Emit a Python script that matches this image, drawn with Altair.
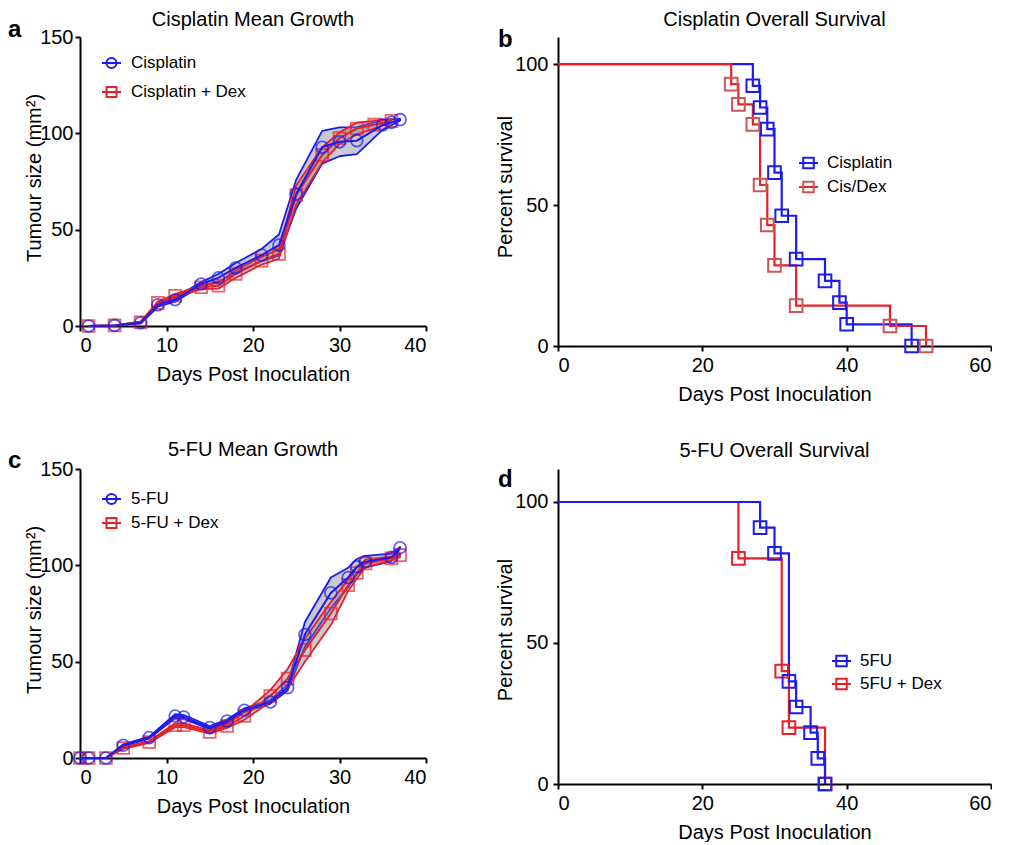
import altair as alt
import pandas as pd

BLUE = "#1c1cf0"
RED = "#e8202a"
RED_SOFT = "#cc5558"
BAND = "#7f7f8f"
FONT = "Liberation Sans"

# ---------------- data ----------------
# Panel a: Cisplatin mean growth
cis_names = ["Cisplatin", "Cisplatin + Dex"]
cis_days = [1, 4, 7, 9, 11, 14, 16, 18, 21, 23, 25, 28, 30, 32, 35, 36, 37]
cis_mean = [0, 0.3, 1.7, 11.0, 13.6, 21.8, 25.0, 30.2, 36.8, 42.0, 68.5, 92.8, 95.6, 96.2, 104.4, 105.7, 107.1]
cis_sem = [0, 0, 0.5, 1.0, 1.0, 1.0, 2.0, 2.5, 3.2, 5.5, 7.5, 8.5, 7.5, 7.0, 2.5, 1.5, 0.5]
cisdex_days = [1, 4, 7, 9, 11, 14, 16, 18, 21, 23, 25, 28, 30, 32, 34, 36]
cisdex_mean = [0, 0.3, 1.9, 12.0, 15.7, 20.1, 20.9, 27.0, 33.9, 37.4, 68.0, 88.8, 97.5, 102.5, 104.5, 106.5]
cisdex_sem = [0, 0, 0.3, 0.8, 0.8, 1.0, 1.5, 2.0, 2.0, 2.5, 5.0, 4.0, 3.0, 3.0, 2.0, 1.0]

# Panel c: 5-FU mean growth
fu_names = ["5-FU", "5-FU + Dex"]
fu_days = [0, 1, 3, 5, 8, 11, 12, 15, 17, 19, 22, 24, 26, 29, 31, 32, 33, 36, 37]
fu_mean = [0, 0, 0, 6.6, 10.6, 21.8, 21.3, 15.8, 19.2, 24.8, 29.1, 36.5, 64.1, 85.7, 93.7, 99.3, 101.9, 104.1, 109.1]
fu_sem = [0, 0, 0, 0.5, 0.5, 1.0, 1.0, 0.8, 0.8, 1.0, 1.0, 1.5, 6.5, 8.0, 5.0, 4.0, 3.0, 2.0, 0.5]
fudex_mean = [0, 0, 0, 5.2, 8.3, 17.0, 17.0, 13.5, 16.6, 21.8, 32.2, 41.2, 56.0, 75.0, 89.7, 96.0, 101.0, 103.6, 105.3]
fudex_sem = [0, 0, 0, 0.5, 0.5, 1.0, 1.0, 0.8, 1.0, 2.0, 3.0, 5.0, 6.0, 6.0, 3.0, 3.0, 2.0, 1.0, 1.0]

# Panel b: Cisplatin overall survival
cis_surv_names = ["Cisplatin", "Cis/Dex"]
cis_surv_days = [0, 27, 28, 29, 30, 31, 33, 37, 39, 40, 49]
cis_surv_pct = [100, 92.3, 84.6, 76.9, 61.5, 46.2, 30.8, 23.1, 15.4, 7.7, 0]
cisdex_surv_days = [0, 24, 25, 27, 28, 29, 30, 33, 46, 51]
cisdex_surv_pct = [100, 92.9, 85.7, 78.6, 57.1, 42.9, 28.6, 14.3, 7.1, 0]

# Panel d: 5-FU overall survival
fu_surv_names = ["5FU", "5FU + Dex"]
fu_surv_days = [0, 28, 30, 32, 33, 35, 36, 37]
fu_surv_pct = [100, 90.9, 81.8, 36.4, 27.3, 18.2, 9.1, 0]
fudex_surv_days = [0, 25, 31, 32, 37]
fudex_surv_pct = [100, 80, 40, 20, 0]

growth_x_ticks = [0, 10, 20, 30, 40]
growth_y_ticks = [0, 50, 100, 150]
surv_x_ticks = [0, 20, 40, 60]
surv_y_ticks = [0, 50, 100]

GW, GH = 346, 289   # growth panels plot area


def axis(values, title, orient, w, h, tdx=0, tdy=0, lpad=2):
    if orient == "bottom":
        return alt.Axis(values=values, title=title, titleX=w / 2, titleY=48,
                        titleBaseline="middle", titleAlign="center",
                        labelPadding=4)
    return alt.Axis(values=values, title=title, titleX=tdx, titleY=h / 2 + tdy,
                    titleAngle=270, titleBaseline="middle", titleAlign="center",
                    labelPadding=lpad)


def letter(ch, dx, dy):
    d = pd.DataFrame({"t": [ch]})
    return alt.Chart(d).mark_text(font=FONT, fontSize=24, fontWeight="bold",
                                  align="left", baseline="alphabetic",
                                  color="black").encode(
        text="t:N", x=alt.value(dx), y=alt.value(dy))


def legend_entry(name, color, shape, x0, x1, y, tx, size, sym_color=None):
    d = pd.DataFrame({"label": [name]})
    sc = sym_color or color
    rule = alt.Chart(d).mark_rule(color=color, strokeWidth=2).encode(
        x=alt.value(x0), x2=alt.value(x1), y=alt.value(y))
    pt = alt.Chart(d).mark_point(shape=shape, filled=False, color=sc, size=size,
                                 strokeWidth=2, opacity=1).encode(
        x=alt.value((x0 + x1) / 2), y=alt.value(y))
    txt = alt.Chart(d).mark_text(align="left", baseline="middle", font=FONT,
                                 fontSize=17, color="black").encode(
        x=alt.value(tx), y=alt.value(y), text="label:N")
    return [rule, pt, txt]


def growth_panel(title, names, d1, m1, s1, d2, m2, s2, ch, leg_y0, leg_dy, letter_dy, toff):
    xenc = alt.X("day:Q", scale=alt.Scale(domain=[0, 40], nice=False),
                 axis=axis(growth_x_ticks, "Days Post Inoculation", "bottom", GW, GH))
    yaxis = axis(growth_y_ticks, "Tumour size (mm²)", "left", GW, GH, tdx=-46, tdy=-4, lpad=2)
    yscale = alt.Scale(domain=[0, 150], nice=False)
    bands, lines = [], []
    for days, mean, sem, color, shape, name in [
        (d1, m1, s1, BLUE, "circle", names[0]),
        (d2, m2, s2, RED, "square", names[1]),
    ]:
        df = pd.DataFrame({"day": days, "mean": mean, "sem": sem})
        df["lo"] = df["mean"] - df["sem"]
        df["hi"] = df["mean"] + df["sem"]
        df["group"] = name
        base = alt.Chart(df)
        band = base.mark_area(fill=BAND, fillOpacity=0.42, stroke=color,
                              strokeWidth=1.8, strokeJoin="round").encode(
            x=xenc, y=alt.Y("lo:Q", scale=yscale, axis=yaxis), y2="hi:Q")
        line = base.mark_line(color=color, strokeWidth=2).encode(
            x=xenc, y=alt.Y("mean:Q", scale=yscale, axis=yaxis))
        pts = base.mark_point(shape=shape, filled=False, color=color, size=140,
                              strokeWidth=1.8).encode(
            x=xenc, y=alt.Y("mean:Q", scale=yscale, axis=yaxis))
        bands.append(band)
        lines.append((line, pts))
    layers = [bands[0], bands[1], lines[1][0], lines[1][1], lines[0][0], lines[0][1]]
    layers += legend_entry(names[0], BLUE, "circle", 22, 41, leg_y0, 51, 100)
    layers += legend_entry(names[1], RED, "square", 22, 41, leg_y0 + leg_dy, 51, 100)
    layers.append(letter(ch, -72, letter_dy))
    return alt.layer(*layers).properties(
        width=GW, height=GH, title=alt.Title(title, offset=toff))


def surv_panel(title, names, d1, p1, d2, p2, ch, red_marker, red_on_top,
               lx0, ly0, ldy, letter_dy, sw, sh, ymax, tdy, toff):
    xenc = alt.X("day:Q", scale=alt.Scale(domain=[0, 60], nice=False),
                 axis=axis(surv_x_ticks, "Days Post Inoculation", "bottom", sw, sh))
    yaxis = axis(surv_y_ticks, "Percent survival", "left", sw, sh, tdx=-53, tdy=tdy, lpad=5)
    yenc = alt.Y("pct:Q", scale=alt.Scale(domain=[0, ymax], nice=False), axis=yaxis)
    parts = {}
    for days, pct, color, mcolor, name in [
        (d1, p1, BLUE, BLUE, names[0]),
        (d2, p2, RED, red_marker, names[1]),
    ]:
        df = pd.DataFrame({"day": days, "pct": pct, "group": name})
        line = alt.Chart(df).mark_line(interpolate="step-after", color=color,
                                       strokeWidth=2.2).encode(x=xenc, y=yenc)
        pts = alt.Chart(df.iloc[1:]).mark_point(shape="square", filled=False, color=mcolor,
                                                size=160, strokeWidth=2, opacity=1).encode(
            x=xenc, y=yenc)
        parts[color] = (line, pts)
    if red_on_top:
        layers = [parts[BLUE][0], parts[RED][0], parts[BLUE][1], parts[RED][1]]
    else:
        layers = [parts[RED][0], parts[BLUE][0], parts[RED][1], parts[BLUE][1]]
    layers += legend_entry(names[0], BLUE, "square", lx0, lx0 + 19, ly0, lx0 + 28, 110)
    layers += legend_entry(names[1], RED, "square", lx0, lx0 + 19, ly0 + ldy, lx0 + 28, 110,
                           sym_color=red_marker)
    layers.append(letter(ch, -60, letter_dy))
    return alt.layer(*layers).properties(
        width=sw, height=sh, title=alt.Title(title, offset=toff))


pa = growth_panel("Cisplatin Mean Growth", cis_names, cis_days, cis_mean, cis_sem,
                  cisdex_days, cisdex_mean, cisdex_sem, "a", 26, 29, 0, -12)
pc = growth_panel("5-FU Mean Growth", fu_names, fu_days, fu_mean, fu_sem,
                  fu_days, fudex_mean, fudex_sem, "c", 30, 24, -1, -11)
pb = surv_panel("Cisplatin Overall Survival", cis_surv_names, cis_surv_days, cis_surv_pct,
                cisdex_surv_days, cisdex_surv_pct, "b", RED_SOFT, True, 241, 126, 24, 10,
                433, 309, 109.6, -5, -2)
pd_ = surv_panel("5-FU Overall Survival", fu_surv_names, fu_surv_days, fu_surv_pct,
                 fudex_surv_days, fudex_surv_pct, "d", RED, False, 274, 192, 23, 18,
                 433, 315, 111.7, 3, 7.5)

chart = alt.concat(pa, pb, pc, pd_, columns=2, bounds="flush",
                   spacing={"row": 123, "column": 132}).properties(
    padding={"left": 0, "top": 2, "right": 0, "bottom": 0}
).configure_view(stroke=None).configure_axis(
    grid=False, domainColor="black", domainWidth=2, tickColor="black", tickWidth=2,
    tickSize=5, labelFont=FONT, labelFontSize=20, labelColor="black",
    titleFont=FONT, titleFontSize=20, titleFontWeight="normal", titleColor="black",
).configure_title(
    font=FONT, fontSize=20, fontWeight="normal", color="black", anchor="middle",
    frame="group"
)

chart.save("out.html", embed_options={"renderer": "svg", "actions": False})
